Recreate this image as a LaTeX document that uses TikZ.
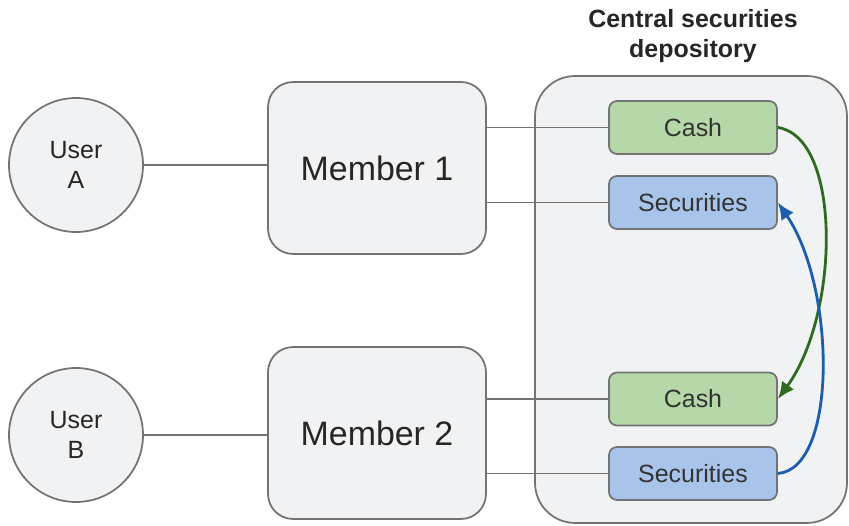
\documentclass[tikz,border=0pt]{standalone}
\usepackage{fontspec}
\setmainfont{Liberation Sans}
\usetikzlibrary{arrows.meta,positioning}
\tikzset{>=latex}
\definecolor{panel}{HTML}{F1F2F4}
\definecolor{edge}{HTML}{737373}
\definecolor{cashfill}{HTML}{B6D7A8}
\definecolor{secfill}{HTML}{A9C4EA}
\definecolor{cashline}{HTML}{2F6B1F}
\definecolor{secline}{HTML}{1C5DAE}
\tikzset{party/.style={circle, draw=edge, fill=panel, line width=1pt, minimum size=2.68cm, inner sep=0pt, align=center, text=black!85, font=\fontsize{14.2}{17}\selectfont}}
\tikzset{member/.style={rectangle, rounded corners=0.5cm, draw=edge, fill=panel, line width=1pt, minimum width=4.36cm, minimum height=3.44cm, text=black!85, font=\fontsize{19.3}{23}\selectfont}}
\tikzset{account/.style={rectangle, rounded corners=0.16cm, draw=edge, line width=1pt, minimum width=3.36cm, minimum height=1.06cm, text=black!80, font=\fontsize{14.2}{17}\selectfont}}
\tikzset{link/.style={draw=edge, line width=1pt}}
\tikzset{transfer/.style={line width=1.6pt, -{Latex[length=0.34cm,width=0.3cm]}}}

\begin{document}
\begin{tikzpicture}[x=0.02cm,y=-0.02cm]
      \useasboundingbox (0,0) rectangle (849,526);
      \node[rectangle, rounded corners=0.8cm, draw=edge, fill=panel, line width=1pt, minimum width=6.24cm, minimum height=8.94cm] (csd) at (691,299.5) {};
      \node[align=center, font=\bfseries\fontsize{14.2}{17}\selectfont, text=black!85] (title) at (693,36) {Central securities\\depository};
      \node[party] (ua) at (76,165) {User\\A};
      \node[party] (ub) at (76,435) {User\\B};
      \node[member] (m1) at (377,168) {Member 1};
      \node[member] (m2) at (377,433) {Member 2};
      \node[account, fill=cashfill] (c1) at (693,127.5) {Cash};
      \node[account, fill=secfill] (s1) at (693,202.5) {Securities};
      \node[account, fill=cashfill] (c2) at (693,399) {Cash};
      \node[account, fill=secfill] (s2) at (693,473.5) {Securities};
      \draw[link] (ua.east) -- (ua.east -| m1.west);
      \draw[link] (ub.east) -- (ub.east -| m2.west);
      \draw[link] (c1.west -| m1.east) -- (c1.west);
      \draw[link] (s1.west -| m1.east) -- (s1.west);
      \draw[link] (c2.west -| m2.east) -- (c2.west);
      \draw[link] (s2.west -| m2.east) -- (s2.west);
      \draw[transfer, cashline] (c1.east) .. controls +(64,10) and +(62,-85) .. (c2.east);
      \draw[transfer, secline] (s2.east) .. controls +(60,-5) and +(58,85) .. (s1.east);
    \end{tikzpicture}
\end{document}
